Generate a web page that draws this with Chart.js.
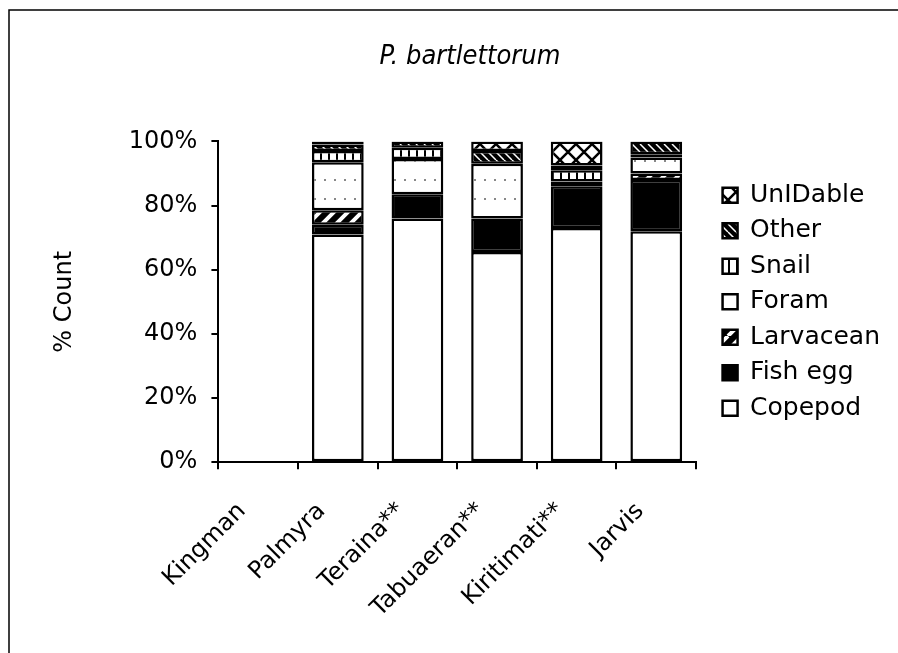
<!DOCTYPE html>
<html>
<head>
<meta charset="utf-8">
<script src="https://cdn.jsdelivr.net/npm/chart.js@4.4.1/dist/chart.umd.min.js"></script>
<style>
  html, body { margin: 0; padding: 0; background: #fff; }
  #wrap { width: 898px; height: 653px; }
</style>
</head>
<body>
<div id="wrap"><canvas id="chart" width="898" height="653"></canvas></div>
<script>
const sites = ['Kingman', 'Palmyra', 'Teraina**', 'Tabuaeran**', 'Kiritimati**', 'Jarvis'];
const copepod   = [null, 71,  76,   65.5, 73,  72];
const fishEgg   = [null, 3,   7.5,  10.5, 13,  16];
const larvacean = [null, 4.5, 0,    0,    1.5, 2];
const foram     = [null, 15,  11,   17,   0,   5];
const snail     = [null, 3.5, 3.5,  0,    3.5, 1];
const other     = [null, 2,   2,    4,    1.5, 4];
const unidable  = [null, 1,   0,    3,    7.5, 0];
const yTicks = [0, 20, 40, 60, 80, 100];

// little canvas patterns to mimic the excel hatch fills
function makePattern(w, h, draw) {
  const c = document.createElement('canvas');
  c.width = w; c.height = h;
  const g = c.getContext('2d');
  draw(g, w, h);
  return g.createPattern(c, 'repeat');
}

const patLarvacean = makePattern(14, 14, (g, w, h) => {
  g.fillStyle = '#000'; g.fillRect(0, 0, w, h);
  g.strokeStyle = '#fff'; g.lineWidth = 4;
  g.beginPath();
  for (let k = -w; k <= 2 * w; k += 14) { g.moveTo(k, h); g.lineTo(k + h, 0); }
  g.stroke();
});
const patForam = makePattern(10, 19, (g, w, h) => {
  g.fillStyle = '#fff'; g.fillRect(0, 0, w, h);
  g.fillStyle = '#888'; g.fillRect(4, 8, 2, 2);
});
const patSnail = makePattern(8, 8, (g, w, h) => {
  g.fillStyle = '#fff'; g.fillRect(0, 0, w, h);
  g.fillStyle = '#000'; g.fillRect(0, 0, 2, h);
});
const patOther = makePattern(8, 8, (g, w, h) => {
  g.fillStyle = '#000'; g.fillRect(0, 0, w, h);
  g.strokeStyle = '#fff'; g.lineWidth = 1.5;
  g.beginPath();
  for (let k = -w; k <= 2 * w; k += 8) { g.moveTo(k, 0); g.lineTo(k + h, h); }
  g.stroke();
});
const patUnid = makePattern(16, 16, (g, w, h) => {
  g.fillStyle = '#fff'; g.fillRect(0, 0, w, h);
  g.strokeStyle = '#000'; g.lineWidth = 2.5;
  g.beginPath();
  g.moveTo(0, 0); g.lineTo(w, h);
  g.moveTo(w, 0); g.lineTo(0, h);
  g.stroke();
});

const frame = {
  id: 'frame',
  beforeDraw(chart) {
    const ctx = chart.ctx;
    ctx.save();
    ctx.fillStyle = '#fff';
    ctx.fillRect(0, 0, chart.width, chart.height);
    ctx.strokeStyle = '#000';
    ctx.lineWidth = 1.5;
    ctx.beginPath();
    ctx.moveTo(9, chart.height);
    ctx.lineTo(9, 10);
    ctx.lineTo(chart.width, 10);
    ctx.stroke();
    ctx.restore();
  }
};

// leave a wider gap between the plot and the legend
const GAP = 16;
const legendGap = {
  id: 'legendGap',
  beforeLayout(chart) {
    const lg = chart.legend;
    if (lg && !lg._gapped) {
      const fit = lg.fit.bind(lg);
      lg.fit = function () { fit(); this.width += GAP; };
      lg._gapped = true;
    }
  },
  afterLayout(chart) {
    const lg = chart.legend;
    if (lg) { lg.left += GAP; lg.width -= GAP; }
  }
};

function ds(label, data, fill) {
  return {
    label: label,
    data: data,
    backgroundColor: fill,
    borderColor: '#000',
    borderWidth: 2.5,
    borderSkipped: false,
    barPercentage: 0.65,
    categoryPercentage: 1
  };
}

const axisFont = { family: "'DejaVu Sans', Verdana, sans-serif", size: 24 };

new Chart(document.getElementById('chart'), {
  type: 'bar',
  data: {
    labels: sites,
    datasets: [
      ds('Copepod', copepod, '#fff'),
      ds('Fish egg', fishEgg, '#000'),
      ds('Larvacean', larvacean, patLarvacean),
      ds('Foram', foram, patForam),
      ds('Snail', snail, patSnail),
      ds('Other', other, patOther),
      ds('UnIDable', unidable, patUnid)
    ]
  },
  options: {
    responsive: false,
    animation: false,
    layout: { padding: { left: 50, right: 8, top: 41, bottom: 2 } },
    plugins: {
      title: {
        display: true,
        text: 'P. bartlettorum',
        color: '#000',
        font: { family: "'DejaVu Sans Condensed', 'Liberation Sans Narrow', 'Open Sans', sans-serif", size: 27, style: 'italic', weight: 'normal' },
        padding: { top: 0, bottom: 68 }
      },
      legend: {
        position: 'right',
        fullSize: false,
        reverse: true,
        labels: {
          color: '#000',
          font: { family: "'DejaVu Sans', Verdana, sans-serif", size: 25 },
          boxWidth: 15,
          boxHeight: 15,
          padding: 10.5
        }
      },
      tooltip: { enabled: false }
    },
    scales: {
      x: {
        stacked: true,
        border: { color: '#000', width: 2 },
        grid: { drawOnChartArea: false, color: '#000', tickLength: 7, lineWidth: 2 },
        ticks: { color: '#000', font: axisFont, minRotation: 45, maxRotation: 45, padding: 28, labelOffset: -16 }
      },
      y: {
        stacked: true,
        min: 0,
        max: 100,
        afterBuildTicks(axis) { axis.ticks = yTicks.map(v => ({ value: v })); },
        border: { color: '#000', width: 2 },
        grid: { drawOnChartArea: false, color: '#000', tickLength: 7, lineWidth: 2 },
        ticks: { color: '#000', font: axisFont, padding: 14, callback: v => v + '%' },
        title: { display: true, text: '% Count', color: '#000', font: axisFont, padding: { top: 0, bottom: 36 } }
      }
    }
  },
  plugins: [frame, legendGap]
});
</script>
</body>
</html>
